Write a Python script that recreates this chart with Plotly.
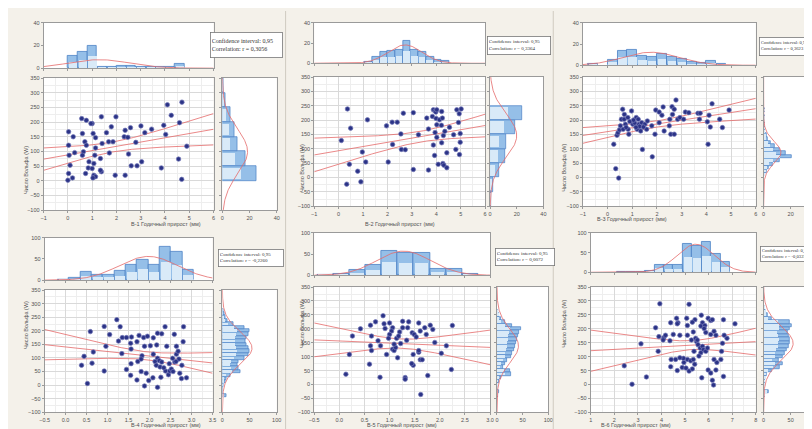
import numpy as np
import plotly.graph_objects as go

W, H = 812, 429
PAPER = "#f4f1ea"
FRAME = "#9a9a9a"
GRID = "#d9d9d9"
MINOR = "#eeeeee"
TICK = "#505050"
BAR_FILL = "#95bfe8"
BAR_LIGHT = "#d9eaf8"
BAR_LINE = "#4a80c4"
DOT = "#2b3386"
RED = "#e46a6a"

Y_TITLE = "Число Вольфа (W)"
X_TITLES = ["В-1 Годичный прирост (мм)", "В-2 Годичный прирост (мм)",
            "В-3 Годичный прирост (мм)", "В-4 Годичный прирост (мм)",
            "В-5 Годичный прирост (мм)", "В-6 Годичный прирост (мм)"]
CORR = ["0,3056", "0,3364", "0,3623", "-0,2260", "0,0072", "-0,0323"]

# --- panel 1
p1_x = [4.1, 4.7, 4.26, 4.6, 3.95, 4.03, 4.9, 4.56, 3.85, 4.69,
        3.45, 3.01, 3.17, 2.58, 2.36, 2.32, 2.47, 2.8, 2.5, 1.79,
        1.98, 1.38, 1.59, 1.68, 1.86, 1.41, 1.14, 1.71, 1.34, 1.11,
        1.14, 1.04, 1.0, 0.57, 0.76, 0.95, 0.6, 0.7, 0.76, 0.64,
        0.6, 0.22, 0.03, 0.03, 0.05, 0.28, 0.09, 0.03, 0.19, 0.0,
        0.73, 0.84, 0.87, 1.07, 1.0, 1.07, 1.14, 1.03, 1.38, 1.34,
        1.95, 2.36, 2.61, 2.85, 3.04]
p1_y = [259, 268, 223, 198, 189, 158, 118, 74, 44, 5,
        176, 187, 164, 181, 172, 150, 148, 131, 91, 184,
        218, 218, 164, 133, 133, 127, 112, 95, 76, 87,
        147, 161, 195, 212, 206, 195, 161, 133, 121, 99,
        87, 150, 167, 121, 87, 96, 53, 25, 10, 2,
        25, 44, 65, 59, 42, 19, 14, 10, 31, 36,
        19, 19, 51, 51, 65]
p1_top_mid = [0.2, 0.6, 1.0, 1.4, 1.8, 2.2, 2.6, 3.0, 3.4, 3.8, 4.2, 4.6]
p1_top_cnt = [11, 14, 20, 1, 1, 2, 2, 1, 1, 1, 1, 4]
p1_right_mid = [25, 75, 125, 175, 225, 275, 325]
p1_right_cnt = [25, 17, 11, 9, 6, 2, 1]

# --- panel 2
p2_x = [0.36, 0.49, 0.11, 1.18, 0.97, 1.11, 0.44, 0.78, 0.91, 0.33,
        1.96, 2.19, 2.4, 2.21, 2.03, 2.55, 2.57, 2.73, 2.65, 3.06,
        3.06, 3.27, 3.68, 3.61, 3.68, 3.88, 3.95, 3.98, 4.02, 3.84,
        3.99, 4.13, 4.25, 4.22, 4.02, 4.21, 3.95, 4.02, 3.88, 4.22,
        4.29, 4.35, 4.43, 3.93, 4.08, 4.27, 4.31, 4.43, 4.71, 4.8,
        4.95, 4.98, 4.98, 4.91, 4.84, 5.02, 4.94, 4.54]
p2_y = [239, 172, 129, 201, 89, 54, 46, 22, -15, -23,
        180, 193, 193, 115, 54, 152, 98, 97, 224, 226,
        28, 149, 26, 207, 169, 236, 232, 228, 236, 213,
        206, 201, 207, 230, 184, 182, 157, 140, 113, 121,
        146, 161, 86, 77, 46, 49, 43, 34, 149, 98,
        80, 123, 153, 192, 236, 239, 222, 175]
p2_top_mid = [1.22, 1.535, 1.85, 2.165, 2.48, 2.795, 3.11, 3.425, 3.74, 4.055, 4.37]
p2_top_cnt = [1, 6, 11, 12, 13, 22, 13, 11, 6, 3, 2]
p2_right_mid = [-75, -25, 25, 75, 125, 175, 225]
p2_right_cnt = [1, 2, 7, 11, 12, 19, 24]

# --- panel 3
p3_x = [0.25, 0.33, 0.45, 0.38, 0.42, 0.48, 0.52, 0.56, 0.67, 0.61,
        0.68, 0.82, 0.97, 0.72, 0.63, 0.83, 0.86, 1.02, 1.16, 1.24,
        1.27, 1.2, 1.34, 1.38, 1.51, 1.61, 1.58, 1.79, 1.41, 1.81,
        1.92, 1.95, 2.09, 2.2, 2.25, 2.09, 2.29, 2.5, 2.61, 2.52,
        2.63, 2.77, 2.7, 2.84, 2.93, 3.08, 3.15, 2.56, 2.7, 3.66,
        3.72, 3.75, 4.04, 4.11, 4.16, 4.23, 4.07, 4.54, 4.65, 4.92,
        3.29, 0.9, 1.1, 1.05, 1.3, 0.75, 1.45, 1.15]
p3_y = [116, 31, -2, 147, 156, 166, 180, 203, 203, 238,
        220, 209, 232, 186, 168, 168, 151, 186, 209, 203,
        186, 168, 162, 191, 186, 197, 168, 180, 98, 72,
        151, 235, 228, 217, 246, 191, 162, 180, 247, 203,
        220, 270, 238, 203, 209, 203, 228, 151, 151, 224,
        203, 224, 194, 217, 176, 257, 116, 203, 174, 235,
        226, 195, 190, 200, 178, 175, 176, 175]
p3_top_mid = [-0.6, 0.2, 0.6, 1.0, 1.4, 1.8, 2.2, 2.6, 3.0, 3.4, 3.8, 4.2, 4.6]
p3_top_cnt = [1, 5, 14, 15, 9, 8, 11, 8, 6, 3, 2, 4, 1]
p3_right_mid = [10, 22.5, 35, 47.5, 60, 72.5, 85, 97.5, 110, 122.5,
                135, 147.5, 160, 172.5, 185, 197.5, 210, 222.5, 235]
p3_right_cnt = [1, 2, 4, 7, 12, 21, 16, 12, 8, 5, 3, 2, 1, 1, 1, 1, 1, 0, 1]

# --- panel 4
p4_x = [1.22, 0.92, 0.59, 1.30, 1.05, 1.35, 1.45, 1.57, 1.75, 1.86,
        1.95, 2.09, 2.19, 2.29, 2.37, 2.81, 2.59, 1.26, 1.55, 1.70,
        2.80, 0.96, 1.56, 1.88, 2.17, 2.41, 2.64, 1.34, 0.66, 0.44,
        0.38, 0.63, 0.92, 0.52, 1.45, 1.55, 1.70, 1.80, 1.92, 1.98,
        2.08, 1.88, 2.19, 2.27, 2.38, 2.45, 2.48, 2.76, 2.88, 2.72,
        1.72, 1.82, 2.09, 2.19, 2.23, 2.29, 2.13, 2.16, 2.25, 2.34,
        2.52, 2.56, 2.60, 2.64, 2.68, 2.70, 2.77, 2.63, 2.02, 1.80,
        1.56, 2.55, 2.47]
p4_y = [241, 216, 197, 215, 186, 175, 175, 177, 183, 175,
        180, 174, 191, 189, 215, 215, 187, 162, 154, 160,
        160, 143, 133, 143, 148, 143, 143, 116, 122, 106,
        73, 81, 52, 6, 58, 36, 19, 50, 44, 17,
        27, -3, -8, 29, 52, 38, 52, 24, 27, 44,
        87, 108, 114, 99, 90, 85, 87, 73, 67, 64,
        59, 50, 85, 114, 125, 96, 73, 87, 145, 96,
        79, 99, 79]
p4_top_mid = [-0.055, 0.215, 0.485, 0.755, 1.025, 1.295, 1.565, 1.835, 2.105, 2.375, 2.645, 2.915]
p4_top_cnt = [2, 5, 19, 13, 13, 21, 37, 47, 37, 78, 68, 25]
p4_right_mid = [-37.5, -25, -12.5, 0, 12.5, 25, 37.5, 50, 62.5, 75, 87.5, 100, 112.5,
                125, 137.5, 150, 162.5, 175, 187.5, 200, 212.5, 225, 237.5, 250, 262.5, 275]
p4_right_cnt = [8, 0, 0, 2, 5, 8, 15, 33, 30, 28, 30, 40, 48,
                50, 47, 45, 42, 45, 48, 50, 40, 20, 10, 5, 3, 1]

# --- panel 5
p5_x = [0.87, 0.62, 0.72, 0.42, 0.26, 0.64, 0.89, 1.0, 0.91, 1.06,
        1.04, 1.0, 0.98, 1.26, 1.38, 1.2, 1.26, 1.36, 1.45, 1.49,
        1.53, 1.61, 1.58, 1.7, 1.81, 1.86, 1.9, 2.25, 2.13, 2.03,
        2.23, 1.76, 1.62, 1.31, 1.31, 1.47, 1.44, 1.58, 1.58, 1.61,
        1.65, 1.47, 1.16, 0.94, 1.06, 1.09, 1.12, 1.22, 1.34, 0.77,
        0.62, 0.64, 0.82, 0.2, 0.6, 0.13, 0.81, 1.14, 1.18, 1.09,
        1.73]
p5_y = [247, 213, 225, 200, 174, 174, 218, 221, 201, 204,
        192, 180, 166, 227, 225, 189, 204, 204, 186, 180,
        171, 192, 221, 204, 213, 198, 151, 212, 139, 112,
        54, 32, -36, 25, 19, 69, 75, 116, 122, 89,
        89, 108, 96, 108, 127, 122, 133, 147, 159, 157,
        139, 122, 139, 108, 73, 37, 26, 166, 174, 145,
        180]
p5_top_mid = [-0.28, 0.04, 0.36, 0.68, 1.0, 1.32, 1.64, 1.96, 2.28, 2.6]
p5_top_cnt = [2, 4, 12, 25, 58, 54, 52, 15, 14, 4]
p5_right_mid = [-37.5, -25, -12.5, 0, 12.5, 25, 37.5, 50, 62.5, 75, 87.5, 100, 112.5,
                125, 137.5, 150, 162.5, 175, 187.5, 200, 212.5, 225, 237.5, 250, 262.5]
p5_right_cnt = [2, 3, 0, 2, 3, 8, 28, 25, 12, 15, 20, 28, 30,
                33, 36, 37, 38, 40, 42, 47, 30, 15, 7, 4, 2]

# --- panel 6
p6_x = [3.93, 5.17, 2.42, 2.75, 3.36, 3.13, 3.75, 3.86, 4.10, 4.36,
        4.39, 4.64, 4.70, 4.50, 4.78, 5.07, 5.10, 5.42, 5.69, 5.74,
        5.98, 6.09, 6.16, 5.67, 5.84, 5.88, 6.09, 6.23, 6.31, 6.63,
        7.12, 6.78, 6.59, 6.66, 5.10, 5.35, 5.27, 5.45, 5.49, 5.55,
        5.64, 5.74, 5.78, 5.88, 5.95, 5.67, 5.59, 5.38, 4.39, 4.41,
        4.67, 4.88, 4.95, 5.10, 5.24, 5.35, 5.41, 5.04, 5.17, 5.31,
        4.93, 5.71, 5.98, 6.09, 6.16, 6.21, 6.31, 6.35, 6.23, 6.52,
        6.55, 6.63, 4.07, 4.17, 3.89, 4.78, 4.60, 5.52, 5.31, 4.67,
        5.81]
p6_y = [290, 288, 67, 1, 27, 146, 204, 119, 168, 157,
        222, 238, 222, 180, 177, 238, 212, 233, 249, 222,
        238, 230, 233, 210, 212, 187, 180, 191, 177, 233,
        218, 166, 148, 177, 177, 189, 160, 166, 154, 143,
        131, 137, 125, 119, 131, 114, 102, 119, 64, 90,
        50, 61, 79, 90, 85, 90, 73, 59, 48, 56,
        94, 24, 52, 41, 15, -2, 52, 79, 90, 90,
        119, 29, 160, 177, 172, 96, 90, 160, 224, 218,
        201]
p6_top_mid = [2.3, 2.7, 3.1, 3.5, 3.9, 4.3, 4.7, 5.1, 5.5, 5.9, 6.3, 6.7]
p6_top_cnt = [1, 1, 2, 4, 19, 18, 18, 72, 68, 78, 46, 27]
p6_right_mid = [-37.5, -25, -12.5, 0, 12.5, 25, 37.5, 50, 62.5, 75, 87.5, 100, 112.5,
                125, 137.5, 150, 162.5, 175, 187.5, 200, 212.5, 225, 237.5, 250, 262.5, 275]
p6_right_cnt = [2, 10, 0, 1, 2, 4, 6, 15, 30, 36, 28, 36, 38,
                42, 46, 48, 49, 46, 45, 49, 51, 48, 15, 8, 4, 2]

# layout of each panel in pixels: (left, right, top, bottom)
panels = [
    dict(x=p1_x, y=p1_y, top=(p1_top_mid, p1_top_cnt, 0.4), right=(p1_right_mid, p1_right_cnt, 50),
         main=(31, 203, 68, 202), tbox=(31, 203, 12, 58), rbox=(212, 267, 68, 202),
         xr=[-1, 6], xd=1, fmt="d", tr=[0, 40], td=20, rr=[0, 40], rd=20,
         leg=(199, 21, 69, 22, 6), xt=216, yt=8),
    dict(x=p2_x, y=p2_y, top=(p2_top_mid, p2_top_cnt, 0.315), right=(p2_right_mid, p2_right_cnt, 50),
         main=(305, 478, 67, 198), tbox=(305, 478, 12, 53), rbox=(483, 537, 67, 198),
         xr=[-1, 6], xd=1, fmt="d", tr=[0, 40], td=20, rr=[0, 40], rd=20,
         leg=(480, 25, 60, 15, 5), xt=216, yt=292),
    dict(x=p3_x, y=p3_y, top=(p3_top_mid, p3_top_cnt, 0.4), right=(p3_right_mid, p3_right_cnt, 12.5),
         main=(577, 752, 67, 198), tbox=(577, 752, 12, 55), rbox=(760, 812, 67, 198),
         xr=[-1, 6], xd=1, fmt="d", tr=[0, 40], td=20, rr=[0, 38], rd=20,
         leg=(755, 26, 56, 15, 4.6), xt=211, yt=563),
    dict(x=p4_x, y=p4_y, top=(p4_top_mid, p4_top_cnt, 0.27), right=(p4_right_mid, p4_right_cnt, 12.5),
         main=(32, 202, 283, 407), tbox=(32, 202, 230, 273), rbox=(212, 267, 283, 407),
         xr=[-0.5, 3.5], xd=0.5, fmt=".1f", tr=[0, 100], td=50, rr=[0, 100], rd=50,
         leg=(208, 241, 62, 14, 5), xt=425, yt=8),
    dict(x=p5_x, y=p5_y, top=(p5_top_mid, p5_top_cnt, 0.32), right=(p5_right_mid, p5_right_cnt, 12.5),
         main=(305, 483, 280, 407), tbox=(305, 483, 225, 268), rbox=(490, 542, 280, 407),
         xr=[-0.5, 3.0], xd=0.5, fmt=".1f", tr=[0, 100], td=50, rr=[0, 100], rd=50,
         leg=(488, 240, 56, 14, 5), xt=425, yt=292),
    dict(x=p6_x, y=p6_y, top=(p6_top_mid, p6_top_cnt, 0.4), right=(p6_right_mid, p6_right_cnt, 12.5),
         main=(585, 752, 280, 407), tbox=(585, 752, 225, 265), rbox=(760, 812, 280, 407),
         xr=[1, 8], xd=1, fmt="d", tr=[0, 100], td=50, rr=[0, 95], rd=50,
         leg=(756, 238, 55, 12, 4.6), xt=425, yt=563),
]


def dx(a, b):
    return [a / W, min(b / W, 1.0)]


def dy(a, b):
    return [1 - b / H, 1 - a / H]


def ref(kind, i):
    return kind if i == 1 else f"{kind}{i}"


def axis(domain, rng, dtick, anchor, labels=True, grid=True, fmt=None):
    d = dict(domain=domain, range=rng, dtick=dtick, anchor=anchor,
             showgrid=grid, gridcolor=GRID, gridwidth=0.6,
             showline=True, mirror=True, linecolor=FRAME, linewidth=1,
             ticks="outside", ticklen=2, tickcolor=FRAME,
             showticklabels=labels, zeroline=False, fixedrange=True,
             tickfont=dict(family="Liberation Sans", size=5.5, color=TICK))
    if grid:
        d["minor"] = dict(dtick=dtick / 2, showgrid=True, gridcolor=MINOR, gridwidth=0.5)
    if fmt:
        d["tickformat"] = fmt
    return d


def normal(mid, cnt, w, grid):
    mid, cnt = np.array(mid, float), np.array(cnt, float)
    n = cnt.sum()
    mu = (mid * cnt).sum() / n
    sd = np.sqrt(((mid - mu) ** 2 * cnt).sum() / n)
    return n * w / (sd * np.sqrt(2 * np.pi)) * np.exp(-0.5 * ((grid - mu) / sd) ** 2)


fig = go.Figure()
lay = {}
ann = []
YR = [-100, 350]

for k, p in enumerate(panels):
    im, it, ir = 3 * k + 1, 3 * k + 2, 3 * k + 3
    mx0, mx1, my0, my1 = p["main"]
    tx0, tx1, ty0, ty1 = p["tbox"]
    rx0, rx1, ry0, ry1 = p["rbox"]

    lay["xaxis" + ("" if im == 1 else str(im))] = axis(dx(mx0, mx1), p["xr"], p["xd"], ref("y", im), fmt=p["fmt"])
    lay[f"yaxis{'' if im == 1 else im}"] = axis(dy(my0, my1), YR, 50, ref("x", im))
    lay[f"xaxis{it}"] = axis(dx(tx0, tx1), p["xr"], p["xd"], ref("y", it), labels=False, grid=False)
    lay[f"yaxis{it}"] = axis(dy(ty0, ty1), p["tr"], p["td"], ref("x", it), grid=False)
    lay[f"xaxis{ir}"] = axis(dx(rx0, rx1), p["rr"], p["rd"], ref("y", ir), grid=False)
    lay[f"yaxis{ir}"] = axis(dy(ry0, ry1), YR, 50, ref("x", ir), labels=False, grid=False)

    # regression line with 0.95 confidence band
    xs, ys = np.array(p["x"], float), np.array(p["y"], float)
    b, a = np.polyfit(xs, ys, 1)
    xg = np.linspace(p["xr"][0], p["xr"][1], 150)
    fit = a + b * xg
    n = len(xs)
    s = np.sqrt(np.sum((ys - (a + b * xs)) ** 2) / (n - 2))
    se = s * np.sqrt(1 / n + (xg - xs.mean()) ** 2 / np.sum((xs - xs.mean()) ** 2))
    for yy in (fit - 1.99 * se, fit, fit + 1.99 * se):
        fig.add_trace(go.Scatter(x=xg, y=yy, mode="lines", line=dict(color=RED, width=0.8),
                                 xaxis=ref("x", im), yaxis=ref("y", im), hoverinfo="skip"))
    fig.add_trace(go.Scatter(x=xs, y=ys, mode="markers",
                             marker=dict(size=4.5, color=DOT, line=dict(width=0.7, color="#7479b8")),
                             xaxis=ref("x", im), yaxis=ref("y", im)))

    # top histogram (outlined bar plus a lighter lower part for the shading)
    mid, cnt, w = p["top"]
    fig.add_trace(go.Bar(x=mid, y=cnt, width=w,
                         marker=dict(color=BAR_FILL, line=dict(color=BAR_LINE, width=0.8)),
                         xaxis=ref("x", it), yaxis=ref("y", it)))
    fig.add_trace(go.Bar(x=mid, y=[c * 0.55 for c in cnt], width=w * 0.86,
                         marker=dict(color=BAR_LIGHT, line=dict(width=0)),
                         xaxis=ref("x", it), yaxis=ref("y", it)))
    g = np.linspace(p["xr"][0], p["xr"][1], 200)
    fig.add_trace(go.Scatter(x=g, y=normal(mid, cnt, w, g), mode="lines",
                             line=dict(color=RED, width=0.8),
                             xaxis=ref("x", it), yaxis=ref("y", it), hoverinfo="skip"))

    # right histogram
    mid, cnt, w = p["right"]
    fig.add_trace(go.Bar(y=mid, x=cnt, width=w, orientation="h",
                         marker=dict(color=BAR_FILL, line=dict(color=BAR_LINE, width=0.7)),
                         xaxis=ref("x", ir), yaxis=ref("y", ir)))
    fig.add_trace(go.Bar(y=mid, x=[c * 0.55 for c in cnt], width=w * 0.8, orientation="h",
                         marker=dict(color=BAR_LIGHT, line=dict(width=0)),
                         xaxis=ref("x", ir), yaxis=ref("y", ir)))
    g = np.linspace(YR[0], YR[1], 200)
    fig.add_trace(go.Scatter(x=normal(mid, cnt, w, g), y=g, mode="lines",
                             line=dict(color=RED, width=0.8),
                             xaxis=ref("x", ir), yaxis=ref("y", ir), hoverinfo="skip"))

    # legend box
    lx, ly, lw, lh, fs = p["leg"]
    ann.append(dict(xref="paper", yref="paper", x=lx / W, y=1 - ly / H,
                    xanchor="left", yanchor="top", showarrow=False, align="left",
                    width=lw, height=lh, valign="middle",
                    text=f"Confidence interval: 0,95<br>Correlation: r = {CORR[k]}",
                    font=dict(family="Liberation Serif", size=fs, color="#333"),
                    bgcolor="white", bordercolor="#777", borderwidth=0.8, borderpad=1))
    # axis titles
    ann.append(dict(xref="paper", yref="paper", x=(mx0 + mx1) / 2 / W, y=1 - p["xt"] / H,
                    showarrow=False, text=X_TITLES[k],
                    font=dict(family="Liberation Sans", size=5.5, color=TICK)))
    ann.append(dict(xref="paper", yref="paper", x=p["yt"] / W, y=1 - (my0 + my1) / 2 / H,
                    showarrow=False, text=Y_TITLE, textangle=-90,
                    font=dict(family="Liberation Sans", size=5.5, color=TICK)))

shapes = [dict(type="line", xref="paper", yref="paper", x0=xv / W, x1=xv / W, y0=0, y1=1,
               line=dict(color="#cfcac0", width=1)) for xv in (276, 547)]

fig.update_layout(**lay)
fig.update_layout(width=W, height=H, autosize=False, showlegend=False,
                  margin=dict(l=0, r=0, t=0, b=0),
                  paper_bgcolor=PAPER, plot_bgcolor="white",
                  barmode="overlay", bargap=0, annotations=ann, shapes=shapes)

fig.write_html("out.html")
